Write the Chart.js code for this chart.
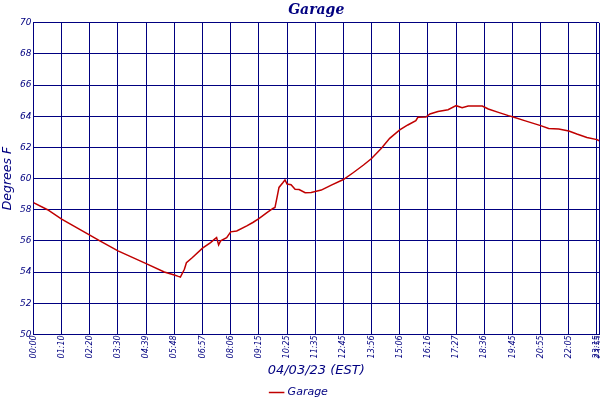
<!DOCTYPE html>
<html>
<head>
<meta charset="utf-8">
<script src="https://cdn.jsdelivr.net/npm/chart.js@4"></script>
<style>
  html, body { margin: 0; padding: 0; background: #fff; }
  #wrap { width: 600px; height: 400px; }
</style>
</head>
<body>
<div id="wrap"><canvas id="grafica"></canvas></div>
<script>
// posicion de cada lectura (numero de muestra) y temperatura leida
const sampleIdx = [0, 7, 14, 28, 33, 42, 56, 65, 70, 72, 73, 75, 76, 79, 84, 88, 90, 91, 92, 93, 96, 98, 101, 106, 109, 112, 116, 119, 120, 121, 122, 124, 125, 126, 128, 130, 132, 135, 138, 141, 143, 148, 154, 159, 164, 168, 173, 177, 182, 186, 190, 191, 195, 197, 201, 206, 210, 213, 216, 223, 226, 231, 236, 238, 244, 252, 256, 261, 266, 270, 275, 280, 281];
const temps = [58.46, 58.0, 57.40, 56.37, 56.0, 55.36, 54.54, 54.0, 53.81, 53.72, 53.68, 54.18, 54.6, 54.93, 55.53, 55.89, 56.11, 56.21, 55.74, 56.0, 56.21, 56.58, 56.64, 56.96, 57.18, 57.43, 57.82, 58.08, 58.14, 58.78, 59.43, 59.75, 59.92, 59.65, 59.6, 59.32, 59.3, 59.09, 59.1, 59.2, 59.26, 59.58, 59.94, 60.39, 60.87, 61.29, 61.96, 62.58, 63.12, 63.44, 63.72, 63.93, 63.95, 64.15, 64.3, 64.42, 64.68, 64.55, 64.66, 64.66, 64.47, 64.25, 64.04, 63.97, 63.72, 63.4, 63.22, 63.18, 63.05, 62.86, 62.64, 62.5, 62.43];

// etiquetas del eje x
const tickPos = [0, 14, 28, 42, 56, 70, 84, 98, 112, 126, 140, 154, 168, 182, 196, 210, 224, 238, 252, 266, 280, 281];
const tickLabels = ['00:00', '01:10', '02:20', '03:30', '04:39', '05:48', '06:57', '08:06', '09:15', '10:25', '11:35', '12:45', '13:56', '15:06', '16:16', '17:27', '18:36', '19:45', '20:55', '22:05', '23:15', '23:55'];

const azul = '#000080';
const rojo = '#c00000';

const puntos = sampleIdx.map((x, i) => ({ x: x, y: temps[i] }));

const ctx = document.getElementById('grafica').getContext('2d');
window.myChart = new Chart(ctx, {
    type: 'line',
    data: {
        datasets: [{
            label: 'Garage',
            data: puntos,
            borderColor: rojo,
            backgroundColor: rojo,
            borderWidth: 1.5,
            pointRadius: 0,
            tension: 0
        }]
    },
    options: {
        responsive: true,
        maintainAspectRatio: false,
        devicePixelRatio: 1,
        animation: false,
        layout: { padding: { left: 0, right: 1, top: 0, bottom: -8 } },
        plugins: {
            title: {
                display: true,
                fullSize: false,
                text: 'Garage',
                color: azul,
                font: { family: 'DejaVu Serif', size: 14, style: 'italic', weight: 'bold' },
                padding: { top: 2, bottom: 4 }
            },
            legend: {
                position: 'bottom',
                labels: {
                    color: azul,
                    usePointStyle: true,
                    pointStyle: 'line',
                    boxWidth: 14,
                    font: { family: 'DejaVu Sans', size: 11, style: 'italic' },
                    padding: 0
                }
            },
            tooltip: { enabled: false }
        },
        scales: {
            x: {
                type: 'linear',
                min: 0,
                max: 281,
                afterBuildTicks: (axis) => {
                    axis.ticks = tickPos.map(v => ({ value: v }));
                },
                afterFit: (axis) => {
                    // la ultima etiqueta puede salirse del borde, como en el original
                    axis.paddingRight = 0;
                },
                ticks: {
                    color: azul,
                    autoSkip: false,
                    minRotation: 90,
                    maxRotation: 90,
                    padding: 1,
                    font: { family: 'DejaVu Sans', size: 8, style: 'italic' },
                    callback: (value) => {
                        const k = tickPos.indexOf(value);
                        return k >= 0 ? tickLabels[k] : '';
                    }
                },
                grid: { color: azul, lineWidth: 1, drawTicks: false },
                border: { color: azul, width: 1 },
                title: {
                    display: true,
                    text: '04/03/23 (EST)',
                    color: azul,
                    font: { family: 'DejaVu Sans', size: 13, style: 'italic' },
                    padding: { top: 3, bottom: 9 }
                }
            },
            y: {
                min: 50,
                max: 70,
                ticks: {
                    stepSize: 2,
                    color: azul,
                    padding: 2,
                    font: { family: 'DejaVu Sans', size: 9, style: 'italic' }
                },
                grid: { color: azul, lineWidth: 1, drawTicks: false },
                border: { color: azul, width: 1 },
                title: {
                    display: true,
                    text: 'Degrees F',
                    color: azul,
                    font: { family: 'DejaVu Sans', size: 12.5, style: 'italic' },
                    padding: { top: 0, bottom: 3 }
                }
            }
        }
    }
});
</script>
</body>
</html>
